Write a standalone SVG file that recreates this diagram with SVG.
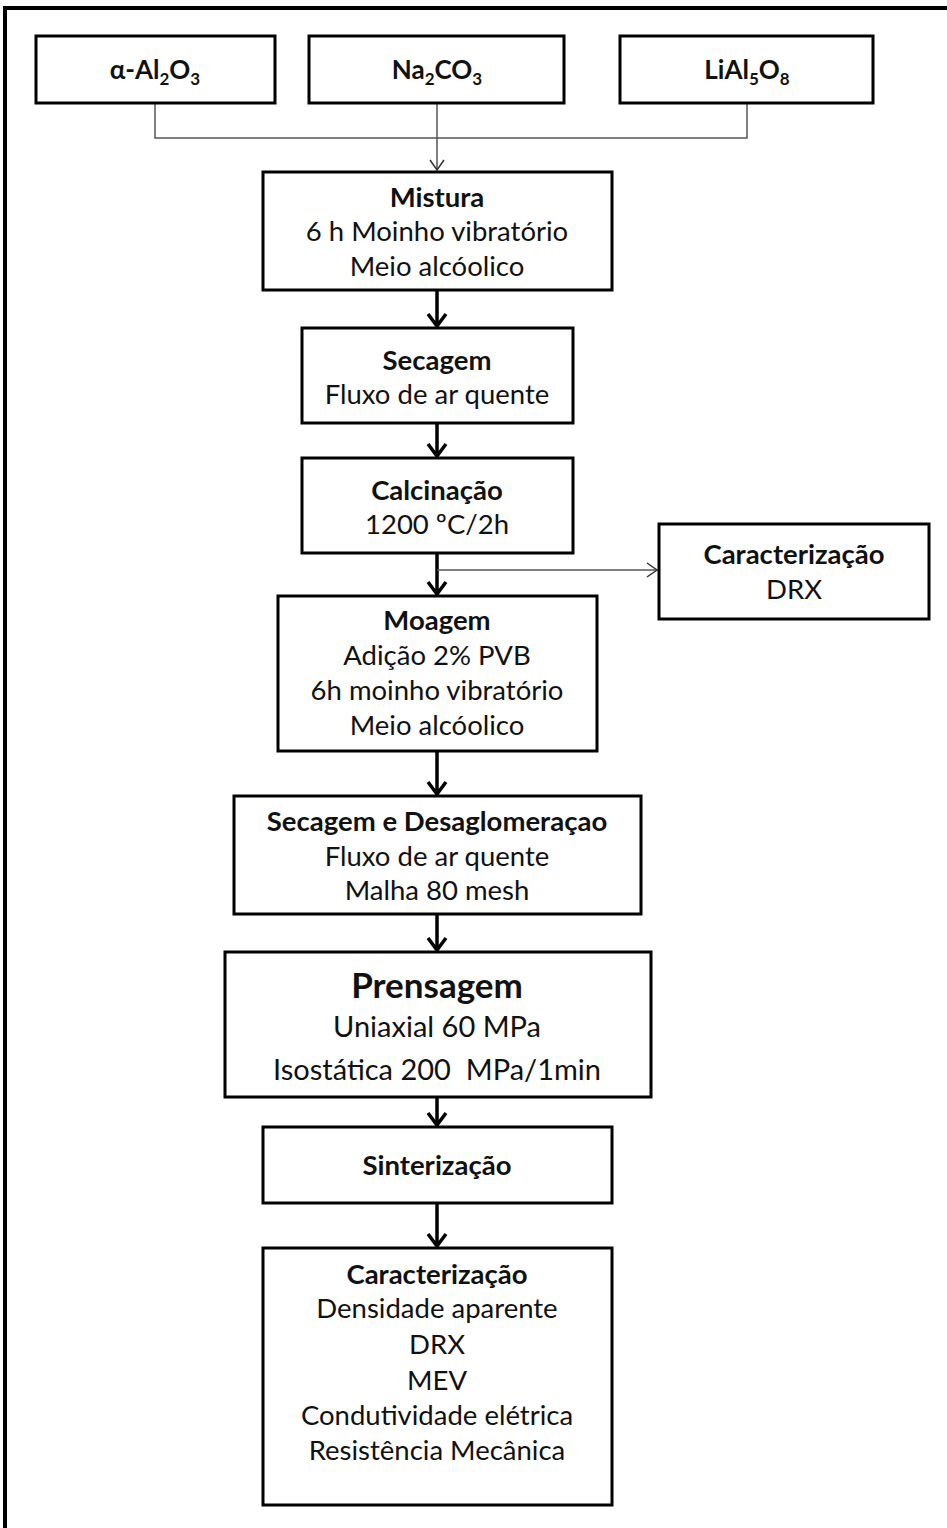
<svg xmlns="http://www.w3.org/2000/svg" width="947" height="1528" viewBox="0 0 947 1528">
<style>
.box{fill:#fff;stroke:#000;stroke-width:3}
.t{font-family:Lato,"Open Sans",sans-serif;font-size:27.5px;fill:#111;text-anchor:middle}
.b{font-weight:bold}
.top{font-size:26px}
.p{font-size:35px}
.q{font-size:29px}
.thin{stroke:#555;stroke-width:1.5;fill:none}
.thick{stroke:#000;stroke-width:3.5;fill:none}
</style>
<defs>
<marker id="ahT" markerWidth="20" markerHeight="20" refX="18" refY="10" viewBox="0 0 20 20" markerUnits="userSpaceOnUse" orient="auto">
<path d="M8,3 L18,10 L8,17" fill="none" stroke="#333" stroke-width="1.5"/>
</marker>
<marker id="ahB" markerWidth="24" markerHeight="24" refX="20" refY="12" viewBox="0 0 24 24" markerUnits="userSpaceOnUse" orient="auto">
<path d="M8,3 L20,12 L8,21" fill="none" stroke="#000" stroke-width="3.5"/>
</marker>
</defs>
<path d="M5,1530 V8 H950" fill="none" stroke="#000" stroke-width="4"/>
<g id="connectors">
<path class="thin" d="M155,103 V138 H747 V103"/>
<path class="thin" d="M437,103 V170" stroke="#222" marker-end="url(#ahT)"/>
<path class="thick" d="M437,290 V326" marker-end="url(#ahB)"/>
<path class="thick" d="M437,423 V456" marker-end="url(#ahB)"/>
<path class="thick" d="M437,553 V594" marker-end="url(#ahB)"/>
<path class="thin" d="M437,570 H657" marker-end="url(#ahT)"/>
<path class="thick" d="M437,751 V794" marker-end="url(#ahB)"/>
<path class="thick" d="M437,914 V950" marker-end="url(#ahB)"/>
<path class="thick" d="M437,1097 V1125" marker-end="url(#ahB)"/>
<path class="thick" d="M437,1203 V1246" marker-end="url(#ahB)"/>
</g>
<g id="al2o3">
<rect class="box" x="36" y="36" width="239" height="67"/>
<text class="t b top" x="155" y="79">α-Al<tspan font-size="17" dy="6">2</tspan><tspan dy="-6">O</tspan><tspan font-size="17" dy="6">3</tspan></text>
</g>
<g id="na2co3">
<rect class="box" x="309" y="36" width="255" height="67"/>
<text class="t b top" x="437" y="79">Na<tspan font-size="17" dy="6">2</tspan><tspan dy="-6">CO</tspan><tspan font-size="17" dy="6">3</tspan></text>
</g>
<g id="lial5o8">
<rect class="box" x="620" y="36" width="253" height="67"/>
<text class="t b top" x="747" y="79">LiAl<tspan font-size="17" dy="6">5</tspan><tspan dy="-6">O</tspan><tspan font-size="17" dy="6">8</tspan></text>
</g>
<g id="mistura">
<rect class="box" x="263" y="172" width="349" height="118"/>
<text class="t b" x="437" y="207">Mistura</text>
<text class="t" x="437" y="241">6 h Moinho vibratório</text>
<text class="t" x="437" y="276">Meio alcóolico</text>
</g>
<g id="secagem">
<rect class="box" x="302" y="328" width="271" height="95"/>
<text class="t b" x="437" y="370">Secagem</text>
<text class="t" x="437" y="404">Fluxo de ar quente</text>
</g>
<g id="calcinacao">
<rect class="box" x="302" y="458" width="271" height="95"/>
<text class="t b" x="437" y="500">Calcinação</text>
<text class="t" x="437" y="534">1200 ºC/2h</text>
</g>
<g id="carac1">
<rect class="box" x="659" y="524" width="270" height="95"/>
<text class="t b" x="794" y="564">Caracterização</text>
<text class="t" x="794" y="599">DRX</text>
</g>
<g id="moagem">
<rect class="box" x="278" y="596" width="319" height="155"/>
<text class="t b" x="437" y="630">Moagem</text>
<text class="t" x="437" y="665">Adição 2% PVB</text>
<text class="t" x="437" y="700">6h moinho vibratório</text>
<text class="t" x="437" y="735">Meio alcóolico</text>
</g>
<g id="secagem2">
<rect class="box" x="234" y="796" width="407" height="118"/>
<text class="t b" x="437" y="831">Secagem e Desaglomeraçao</text>
<text class="t" x="437" y="866">Fluxo de ar quente</text>
<text class="t" x="437" y="900">Malha 80 mesh</text>
</g>
<g id="prensagem">
<rect class="box" x="225" y="952" width="426" height="145" stroke-width="4"/>
<text class="t b p" x="437" y="998">Prensagem</text>
<text class="t q" x="437" y="1037">Uniaxial 60 MPa</text>
<text class="t q" x="437" y="1080" xml:space="preserve">Isostática 200  MPa/1min</text>
</g>
<g id="sinterizacao">
<rect class="box" x="263" y="1127" width="349" height="76"/>
<text class="t b" x="437" y="1175">Sinterização</text>
</g>
<g id="carac2">
<rect class="box" x="263" y="1248" width="349" height="257"/>
<text class="t b" x="437" y="1284">Caracterização</text>
<text class="t" x="437" y="1318">Densidade aparente</text>
<text class="t" x="437" y="1354">DRX</text>
<text class="t" x="437" y="1390">MEV</text>
<text class="t" x="437" y="1425">Condutividade elétrica</text>
<text class="t" x="437" y="1460">Resistência Mecânica</text>
</g>
</svg>
